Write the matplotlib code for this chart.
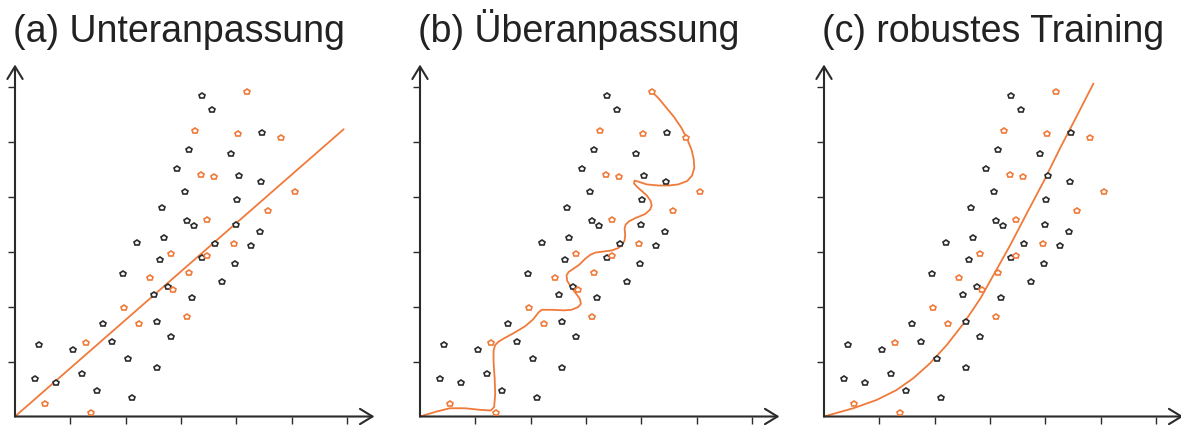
import numpy as np
import matplotlib.pyplot as plt

# shared sample points (x, y in tick units)
black_x = [0.36, 0.43, 0.74, 1.05, 1.21, 1.48, 1.59, 1.76, 2.04, 2.12,
           1.96, 2.20, 2.52, 2.56, 2.56, 2.63, 2.66, 2.69, 2.76, 2.82,
           2.93, 3.08, 3.11, 3.15, 3.20, 3.24, 3.38, 3.39, 3.57, 3.62,
           3.75, 3.91, 3.97, 3.99, 4.02, 4.05, 4.27, 4.43, 4.45, 4.46]
black_y = [0.68, 1.30, 0.61, 1.21, 0.77, 0.47, 1.68, 1.35, 1.04, 0.33,
           2.59, 3.16, 2.21, 1.71, 0.88, 2.85, 3.80, 3.24, 2.35, 1.45,
           4.50, 4.08, 3.55, 4.85, 2.15, 3.46, 2.88, 5.82, 5.58, 3.13,
           2.44, 4.78, 2.78, 3.49, 3.94, 4.38, 3.10, 3.36, 4.26, 5.16]
orange_x = [0.55, 1.28, 1.37, 1.97, 2.25, 2.44, 2.82, 2.86, 3.11, 3.15, 3.26,
            3.37, 3.47, 3.47, 3.60, 3.96, 4.04, 4.20, 4.57, 4.81, 5.07]
orange_y = [0.22, 1.33, 0.07, 1.98, 1.68, 2.52, 2.95, 2.30, 1.81, 2.61, 5.19,
            4.39, 3.58, 2.91, 4.35, 3.13, 5.13, 5.90, 3.74, 5.06, 4.08]

# (a) straight fit
under_x = [0.0, 5.94]
under_y = [0.0, 5.22]

# (b) wiggly overfit curve
over_x = [0.00, 0.30, 0.54, 0.81, 1.10, 1.28, 1.34, 1.36, 1.35, 1.33, 1.33, 1.36,
          1.42, 1.50, 1.70, 1.90, 2.05, 2.14, 2.20, 2.40, 2.60, 2.74, 2.86, 2.91,
          2.89, 2.84, 2.74, 2.66, 2.65, 2.69, 2.78, 2.88, 2.99, 3.08, 3.17, 3.32,
          3.47, 3.58, 3.65, 3.70, 3.71, 3.70, 3.72, 3.78, 3.90, 4.07, 4.16, 4.19,
          4.17, 4.10, 4.01, 3.92, 3.87, 3.88, 3.95, 4.10, 4.31, 4.50, 4.67, 4.83,
          4.92, 4.96, 4.95, 4.91, 4.83, 4.72, 4.59, 4.45, 4.31, 4.20]
over_y = [0.00, 0.09, 0.15, 0.15, 0.12, 0.11, 0.17, 0.40, 0.70, 1.00, 1.20, 1.30,
          1.36, 1.41, 1.52, 1.64, 1.77, 1.89, 1.94, 1.94, 1.93, 1.94, 1.99, 2.05,
          2.14, 2.21, 2.34, 2.47, 2.57, 2.63, 2.69, 2.76, 2.87, 2.94, 2.98, 3.00,
          3.02, 3.06, 3.11, 3.20, 3.30, 3.42, 3.49, 3.55, 3.61, 3.68, 3.76, 3.84,
          3.92, 4.02, 4.10, 4.18, 4.24, 4.29, 4.27, 4.22, 4.20, 4.20, 4.22, 4.28,
          4.38, 4.52, 4.68, 4.85, 5.05, 5.26, 5.45, 5.62, 5.79, 5.90]

# (c) smooth robust curve
robust_x = [0.00, 0.53, 0.95, 1.31, 1.62, 1.92, 2.22, 2.53, 2.83, 3.12, 3.37,
            3.67, 3.97, 4.27, 4.58, 4.87]
robust_y = [0.00, 0.15, 0.30, 0.48, 0.70, 0.97, 1.30, 1.70, 2.15, 2.67, 3.12,
            3.70, 4.27, 4.88, 5.48, 6.05]

titles = ["(a) Unteranpassung", "(b) Überanpassung", "(c) robustes Training"]
fits = [(under_x, under_y), (over_x, over_y), (robust_x, robust_y)]

ORANGE = "#f07a3a"
DARK = "#2b2b2b"

W, H = 1181, 425
fig = plt.figure(figsize=(W / 100, H / 100), dpi=100)
plt.rcParams['font.family'] = ['Liberation Sans', 'DejaVu Sans']

unit_x, unit_y = 55.3, 55.0
xmax, ymax = 6.6, 6.45
origins = [(15, 8.5), (420, 8.5), (824, 8.5)]
arrow = dict(arrowstyle="->,head_length=0.9,head_width=0.55",
             color=DARK, lw=1.5, shrinkA=0, shrinkB=0)

for (ox, oy), title, (fx, fy) in zip(origins, titles, fits):
    ax = fig.add_axes([ox / W, oy / H, xmax * unit_x / W, ymax * unit_y / H])
    ax.set_xlim(0, xmax)
    ax.set_ylim(0, ymax)
    for s in ax.spines.values():
        s.set_visible(False)
    ax.set_xticks(range(1, 7))
    ax.set_yticks(range(1, 7))
    ax.set_xticklabels([])
    ax.set_yticklabels([])
    ax.tick_params(direction='out', length=5, width=1, color=DARK)

    # axes with open arrow heads
    ax.annotate("", xy=(6.5, 0), xytext=(0, 0), annotation_clip=False, arrowprops=arrow)
    ax.annotate("", xy=(0, 6.4), xytext=(0, 0), annotation_clip=False, arrowprops=arrow)

    ax.plot(fx, fy, color=ORANGE, lw=1.3, clip_on=False, zorder=2)
    ax.plot(black_x, black_y, ls='none', marker='p', ms=4.2, mfc='white',
            mec=DARK, mew=1.2, zorder=3)
    ax.plot(orange_x, orange_y, ls='none', marker='p', ms=4.2, mfc='white',
            mec=ORANGE, mew=1.2, zorder=3)

    fig.text((ox - 2) / W, (H - 42) / H, title, fontsize=27, color='#222222',
             ha='left', va='baseline')

fig.savefig("out.png", dpi=100)
